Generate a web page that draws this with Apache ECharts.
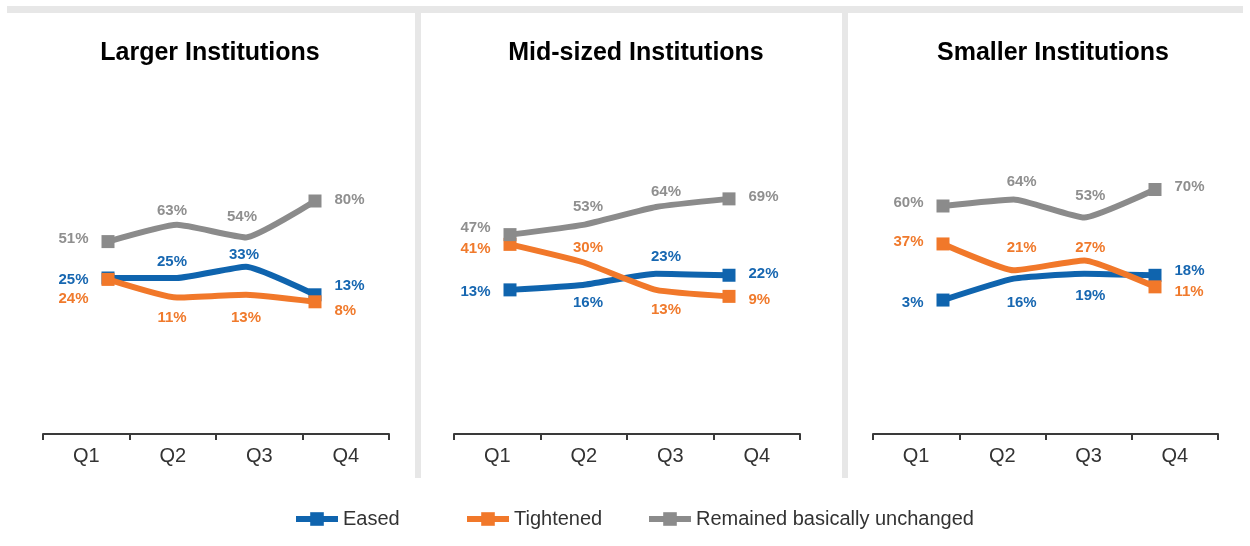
<!DOCTYPE html>
<html>
<head>
<meta charset="utf-8">
<script src="https://cdn.jsdelivr.net/npm/echarts@6/dist/echarts.min.js"></script>
<style>
  html, body { margin: 0; padding: 0; background: #ffffff; }
  #chart { width: 1250px; height: 546px; }
</style>
</head>
<body>
<div id="chart"></div>
<script>
// Quarterly share of institutions by change in standards
const QUARTERS = ['Q1', 'Q2', 'Q3', 'Q4'];
const SERIES_NAMES = ['Eased', 'Tightened', 'Remained basically unchanged'];
const PANEL_TITLES = ['Larger Institutions', 'Mid-sized Institutions', 'Smaller Institutions'];

const LARGER_EASED = [25, 25, 33, 13];
const LARGER_TIGHTENED = [24, 11, 13, 8];
const LARGER_UNCHANGED = [51, 63, 54, 80];

const MID_EASED = [13, 16, 23, 22];
const MID_TIGHTENED = [41, 30, 13, 9];
const MID_UNCHANGED = [47, 53, 64, 69];

const SMALL_EASED = [3, 16, 19, 18];
const SMALL_TIGHTENED = [37, 21, 27, 11];
const SMALL_UNCHANGED = [60, 64, 53, 70];

const FONT = '"Liberation Sans", Arial, sans-serif';
const COLORS = ['#0f64ae', '#f1782a', '#8b8b8b'];
const LABEL_COLORS = ['#1767b1', '#f07a2c', '#8f8f8f'];

// Panel layout: axis band, plotted line span, vertical scale
const PANELS = [
  { title: PANEL_TITLES[0], cx: 205, data: [LARGER_EASED, LARGER_TIGHTENED, LARGER_UNCHANGED],
    axisLeft: 43, axisWidth: 346, lineLeft: 108, lineWidth: 207,
    yMin: -90, yMax: 120, gridTop: 145, gridHeight: 294,
    // label offsets: endpoints [dy], middle points [dx, dy]
    labels: [
      [[2], [-5, -16], [-2, -12], [-9]],
      [[19], [-5, 20], [0, 23], [9]],
      [[-3], [-5, -14], [-4, -21], [-1]]
    ] },
  { title: PANEL_TITLES[1], cx: 631, data: [MID_EASED, MID_TIGHTENED, MID_UNCHANGED],
    axisLeft: 454, axisWidth: 346, lineLeft: 510, lineWidth: 219,
    yMin: -80, yMax: 100, gridTop: 148.5, gridHeight: 292.5,
    labels: [
      [[2], [5, 18], [10, -17], [-1]],
      [[4], [5, -14], [10, 20], [3]],
      [[-7], [5, -18], [10, -15], [-2]]
    ] },
  { title: PANEL_TITLES[2], cx: 1048, data: [SMALL_EASED, SMALL_TIGHTENED, SMALL_UNCHANGED],
    axisLeft: 873, axisWidth: 345, lineLeft: 943, lineWidth: 212,
    yMin: -80, yMax: 100, gridTop: 140, gridHeight: 297,
    labels: [
      [[3], [8, 24], [6, 22], [-4]],
      [[-2], [8, -22], [6, -13], [5]],
      [[-3], [8, -18], [6, -22], [-3]]
    ] }
];

const grid = [], xAxis = [], yAxis = [], series = [], title = [];

PANELS.forEach(function (p, pi) {
  title.push({
    text: p.title, left: p.cx, top: 36, textAlign: 'center',
    textStyle: { fontFamily: FONT, fontSize: 25, fontWeight: 'bold', color: '#000' }
  });

  // visible quarter axis
  const axisIdx = grid.length;
  grid.push({ left: p.axisLeft, width: p.axisWidth, top: 140, height: 294 });
  xAxis.push({
    type: 'category', gridIndex: axisIdx, data: QUARTERS, boundaryGap: true,
    axisLine: { show: true, lineStyle: { color: '#3a3a3a', width: 2 } },
    axisTick: { show: true, length: 6, lineStyle: { color: '#3a3a3a', width: 2 } },
    axisLabel: { color: '#333', fontFamily: FONT, fontSize: 20, margin: 12 }
  });
  yAxis.push({ type: 'value', gridIndex: axisIdx, show: false, min: 0, max: 1 });

  // plotting area for the lines
  const lineIdx = grid.length;
  grid.push({ left: p.lineLeft, width: p.lineWidth, top: p.gridTop, height: p.gridHeight });
  xAxis.push({ type: 'category', gridIndex: lineIdx, data: QUARTERS, boundaryGap: false, show: false });
  yAxis.push({ type: 'value', gridIndex: lineIdx, show: false, min: p.yMin, max: p.yMax,
               splitLine: { show: false } });

  p.data.forEach(function (values, si) {
    const items = values.map(function (v, i) {
      const isEnd = (i === 0 || i === values.length - 1);
      const off = p.labels[si][i];
      const label = isEnd
        ? { position: i === 0 ? 'left' : 'right', distance: 13, offset: [0, off[0]] }
        : { position: 'inside', offset: [off[0], off[1]] };
      return { value: v, symbolSize: isEnd ? 13 : 2, label: label };
    });
    series.push({
      name: SERIES_NAMES[si],
      type: 'line',
      xAxisIndex: lineIdx, yAxisIndex: lineIdx,
      data: items,
      smooth: 0.15,
      symbol: 'rect',
      symbolSize: 13,
      showAllSymbol: true,
      color: COLORS[si],
      lineStyle: { width: 6, color: COLORS[si] },
      itemStyle: { color: COLORS[si] },
      label: {
        show: true,
        formatter: function (d) { return d.value + '%'; },
        color: LABEL_COLORS[si], fontFamily: FONT, fontSize: 15, fontWeight: 'bold'
      },
      emphasis: { disabled: true },
      animation: false,
      z: 2 + si
    });
  });
});

const legendLefts = [288, 459, 641];
const legend = SERIES_NAMES.map(function (name, i) {
  return {
    data: [name], left: legendLefts[i], top: 504,
    itemWidth: 42, itemHeight: 17, itemGap: 5,
    lineStyle: { width: 6 },
    textStyle: { color: '#333', fontFamily: FONT, fontSize: 20 },
    selectedMode: false
  };
});

const chart = echarts.init(document.getElementById('chart'), null, { renderer: 'canvas' });
chart.setOption({
  backgroundColor: '#ffffff',
  animation: false,
  graphic: [
    { type: 'rect', shape: { x: 7, y: 6, width: 1236, height: 7 }, style: { fill: '#e7e7e7' }, silent: true, z: -10 },
    { type: 'rect', shape: { x: 415, y: 13, width: 6, height: 465 }, style: { fill: '#e7e7e7' }, silent: true, z: -10 },
    { type: 'rect', shape: { x: 842, y: 13, width: 6, height: 465 }, style: { fill: '#e7e7e7' }, silent: true, z: -10 }
  ],
  title: title,
  legend: legend,
  grid: grid,
  xAxis: xAxis,
  yAxis: yAxis,
  series: series
});
</script>
</body>
</html>
